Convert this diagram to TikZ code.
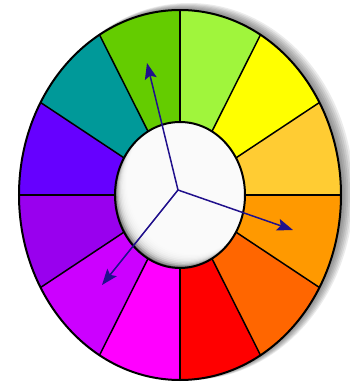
\documentclass[tikz,border=0pt]{standalone}
\usepackage{tikz}
\usetikzlibrary{arrows.meta}
\definecolor{lime}{RGB}{160,245,60}
\definecolor{lemon}{RGB}{255,255,0}
\definecolor{amber}{RGB}{255,204,51}
\definecolor{tangerine}{RGB}{255,153,0}
\definecolor{pumpkin}{RGB}{255,102,0}
\definecolor{scarlet}{RGB}{255,0,0}
\definecolor{fuchsia}{RGB}{255,0,255}
\definecolor{orchid}{RGB}{204,0,255}
\definecolor{grape}{RGB}{153,0,238}
\definecolor{indigo}{RGB}{102,0,255}
\definecolor{teal}{RGB}{0,153,153}
\definecolor{leaf}{RGB}{100,204,0}
\definecolor{navyarrow}{RGB}{32,16,140}

\begin{document}
\begin{tikzpicture}[x=1pt,y=1pt,>={Stealth[length=16pt,width=12pt,inset=3pt]}]
\tikzset{
  rim/.style={draw=black,line width=2pt},
  spoke/.style={draw=black,line width=1.5pt},
  pointer/.style={->,draw=navyarrow,fill=navyarrow,line width=1.5pt}
}
\useasboundingbox (-180,-191) rectangle (169,195);
% soft shadow round the wheel
\foreach \k in {1,...,7}
  \fill[black,opacity=0.08] (1.3*\k,0.5*\k) ellipse [x radius=161+0.5*\k, y radius=185+0.5*\k];
% twelve colour segments, clockwise from the top
\foreach \c [count=\i] in {lime,lemon,amber,tangerine,pumpkin,scarlet,fuchsia,orchid,grape,indigo,teal,leaf}
  \fill[\c] (0,0) -- (90-30*\i+30:161 and 185)
    arc[start angle=90-30*\i+30,end angle=90-30*\i,x radius=161,y radius=185] -- cycle;
\foreach \a in {0,30,...,330}
  \draw[spoke] (0,0) -- (\a:161 and 185);
\draw[rim] (0,0) ellipse [x radius=161,y radius=185];
% the hole, shaded towards the lower left
\begin{scope}
  \clip (0,0) ellipse [x radius=65,y radius=73];
  \fill[black!90] (-70,-80) rectangle (70,80);
  \foreach \k in {0,...,10}
    \fill[white,opacity=0.33] (1.2*\k,1.4*\k) ellipse [x radius=65,y radius=73];
\end{scope}
\draw[rim] (0,0) ellipse [x radius=65,y radius=73];
% pointers
\coordinate (hub) at (-2,5);
\coordinate (green) at (-33,132);
\coordinate (orange) at (113,-35);
\coordinate (violet) at (-78,-90);
\draw[pointer] (hub) -- (green);
\draw[pointer] (hub) -- (orange);
\draw[pointer] (hub) -- (violet);
\end{tikzpicture}
\end{document}
